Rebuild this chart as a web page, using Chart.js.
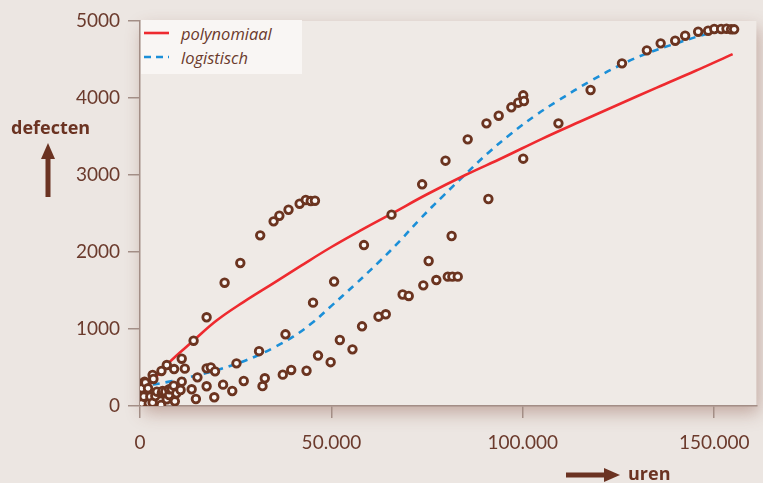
<!DOCTYPE html>
<html>
<head>
<meta charset="utf-8">
<script src="https://cdn.jsdelivr.net/npm/chart.js@4.4.1/dist/chart.umd.min.js"></script>
<style>
  html, body { margin:0; padding:0; background:#ece6e2; }
  #wrap { position:relative; width:763px; height:483px; overflow:hidden; font-family:"Lato", "Open Sans", sans-serif; }
  canvas { position:absolute; left:0; top:0; }
  .legend { position:absolute; left:141px; top:20px; width:161px; height:54px; background:#f9f6f4; }
  .legend .row { position:absolute; left:0; height:20px; display:flex; align-items:center; }
  .legend .row span { position:absolute; left:40px; font-family:"Open Sans", sans-serif; font-style:italic; font-size:16.5px; color:#6b3a2c; white-space:nowrap; }
  .title { position:absolute; font-family:"Open Sans", sans-serif; font-weight:bold; font-size:18px; color:#6b3322; }
</style>
</head>
<body>
<div id="wrap">
  <canvas id="c" width="763" height="483"></canvas>
  <div class="legend">
    <div class="row" style="top:3px">
      <svg width="30" height="20" style="position:absolute;left:3px;top:0"><line x1="0" y1="10" x2="25" y2="10" stroke="#ee2a2f" stroke-width="2.6"/></svg>
      <span>polynomiaal</span>
    </div>
    <div class="row" style="top:27px">
      <svg width="30" height="20" style="position:absolute;left:3px;top:0"><line x1="0" y1="10" x2="25" y2="10" stroke="#1b8fd8" stroke-width="2.6" stroke-dasharray="7,5"/></svg>
      <span>logistisch</span>
    </div>
  </div>
  <div class="title" style="left:11px;top:115px">defecten</div>
  <svg style="position:absolute;left:38px;top:143px" width="20" height="54">
    <polygon points="10,0 17,16 3,16" fill="#6b3322"/>
    <rect x="7.5" y="14" width="5" height="40" fill="#6b3322"/>
  </svg>
  <svg style="position:absolute;left:566px;top:465px" width="54" height="20">
    <polygon points="54,10 38,3 38,17" fill="#6b3322"/>
    <rect x="0" y="7.5" width="40" height="5" fill="#6b3322"/>
  </svg>
  <div class="title" style="left:628px;top:461px">uren</div>
</div>
<script>
// meetpunten: uren (x) en defecten (y)
const puntUren = [
  300, 200, 300, 500, 500, 1000, 1200, 1400, 2100, 2300, 2700, 3300, 3300, 3500, 4000, 4400,
  5500, 5600, 5700, 5900, 6600, 7000, 7000, 7600, 7600, 8300, 8800, 8900, 9100, 9500, 10600,
  10900, 10900, 11700, 13500, 14000, 14600, 15000, 17400, 17400, 17400, 18500, 19400, 19600,
  21700, 22100, 24100, 25200, 26200, 27100, 31100, 31400, 32000, 32600, 34900, 36400, 37300,
  38000, 38800, 39500, 41700, 43300, 43500, 44600, 45200, 45700, 46500, 49800, 50700, 52200,
  55500, 58000, 58500, 62300, 64200, 65700, 68600, 70200, 73700, 74000, 75400, 77400, 79800,
  80400, 81400, 81600, 83000, 85600, 90500, 91000, 93700, 97000, 98800, 100100, 100100, 100300,
  109300, 117700, 125900, 132400, 136000, 139800, 142400, 145800, 148400, 150000, 151800,
  153200, 154400, 155200
];
const puntDefecten = [
  243, 165, 100, 35, 230, 121, 316, 303, 230, 35, 121, 43, 403, 351, 130, 186,
  13, 455, 165, 195, 186, 532, 87, 143, 217, 217, 264, 480, 61, 165, 208,
  316, 614, 485, 217, 848, 91, 372, 1152, 489, 256, 502, 113, 450,
  277, 1601, 195, 554, 1857, 325, 712, 2216, 258, 360, 2398, 2471, 407,
  931, 2549, 468, 2627, 2675, 458, 2662, 1342, 2666, 655, 569, 1616, 857,
  736, 1035, 2090, 1160, 1191, 2485, 1448, 1429, 2879, 1567, 1883, 1636, 3186,
  1680, 2208, 1680, 1680, 3463, 3671, 2688, 3770, 3879, 3939, 3212, 4035, 3961,
  3671, 4104, 4450, 4619, 4710, 4744, 4809, 4861, 4874, 4896, 4896,
  4900, 4892, 4892
];

// polynomiaal model
const polyUren = [0, 3000, 7500, 14000, 20000, 27000, 35000, 42000, 50000, 58000, 66000, 75000,
  85000, 95000, 105000, 115000, 125000, 135000, 145000, 154800];
const polyDefecten = [165, 310, 560, 850, 1110, 1350, 1600, 1820, 2065, 2290, 2505, 2750,
  3000, 3230, 3470, 3695, 3915, 4135, 4350, 4570];

// logistisch model
const logUren = [0, 8000, 15000, 20000, 25000, 30000, 35000, 40000, 45000, 50000, 56000, 62600,
  68000, 73000, 79000, 85000, 91000, 97000, 103500, 109000, 118000, 126000, 132000, 141000,
  148000, 154800];
const logDefecten = [250, 320, 400, 465, 545, 640, 760, 900, 1080, 1300, 1570, 1880,
  2150, 2420, 2720, 3010, 3290, 3540, 3780, 3960, 4230, 4440, 4570, 4725,
  4830, 4896];

const yTicks = [0, 1000, 2000, 3000, 4000, 5000];
const xTicks = [0, 50000, 100000, 150000];

const zip = (xs, ys) => xs.map((x, i) => ({ x, y: ys[i] }));
const INK = "#6b3a2c";
const AXIS = "#a38e86";

// lichter plotvlak met schaduw eronder
const plotShadow = {
  id: "plotShadow",
  beforeDraw(chart) {
    const { ctx, chartArea: a } = chart;
    ctx.save();
    ctx.shadowColor = "rgba(130,70,55,0.38)";
    ctx.shadowBlur = 16;
    ctx.shadowOffsetX = 3;
    ctx.shadowOffsetY = 7;
    ctx.fillStyle = "#efeae6";
    ctx.fillRect(a.left, a.top, a.right - a.left, a.bottom - a.top);
    ctx.restore();
  }
};

const fmtNL = v => v === 0 ? "0" : v.toLocaleString("de-DE");

new Chart(document.getElementById("c"), {
  type: "scatter",
  data: {
    datasets: [
      { label: "meetpunten", data: zip(puntUren, puntDefecten), pointRadius: 3.8, pointHoverRadius: 3.8,
        borderWidth: 2.8, borderColor: "#6b3420", backgroundColor: "#fbf8f6" },
      { label: "polynomiaal", data: zip(polyUren, polyDefecten), showLine: true, pointRadius: 0,
        borderColor: "#ee2a2f", borderWidth: 2.6, tension: 0.4 },
      { label: "logistisch", data: zip(logUren, logDefecten), showLine: true, pointRadius: 0,
        borderColor: "#1b8fd8", borderWidth: 2.6, borderDash: [7, 6], tension: 0.4 }
    ]
  },
  options: {
    responsive: false,
    animation: false,
    devicePixelRatio: 1,
    layout: { padding: { top: 21, right: 5, left: 0, bottom: 0 } },
    plugins: { legend: { display: false }, tooltip: { enabled: false } },
    scales: {
      x: {
        type: "linear", min: 0, max: 161000,
        afterFit: s => { s.height = 77; },
        afterBuildTicks: s => { s.ticks = xTicks.map(v => ({ value: v })); },
        border: { color: AXIS, width: 1.5 },
        grid: { drawOnChartArea: false, drawTicks: true, tickLength: 12, color: AXIS, lineWidth: 1.5 },
        ticks: { color: INK, padding: 13, font: { family: "Lato", size: 19 }, callback: v => fmtNL(v) }
      },
      y: {
        type: "linear", min: 0, max: 5000,
        afterFit: s => { s.width = 140; },
        afterBuildTicks: s => { s.ticks = yTicks.map(v => ({ value: v })); },
        border: { color: AXIS, width: 1.5 },
        grid: { drawOnChartArea: false, drawTicks: true, tickLength: 12, color: AXIS, lineWidth: 1.5 },
        ticks: { color: INK, padding: 8, font: { family: "Lato", size: 19 }, callback: v => String(v) }
      }
    }
  },
  plugins: [plotShadow]
});
</script>
</body>
</html>
